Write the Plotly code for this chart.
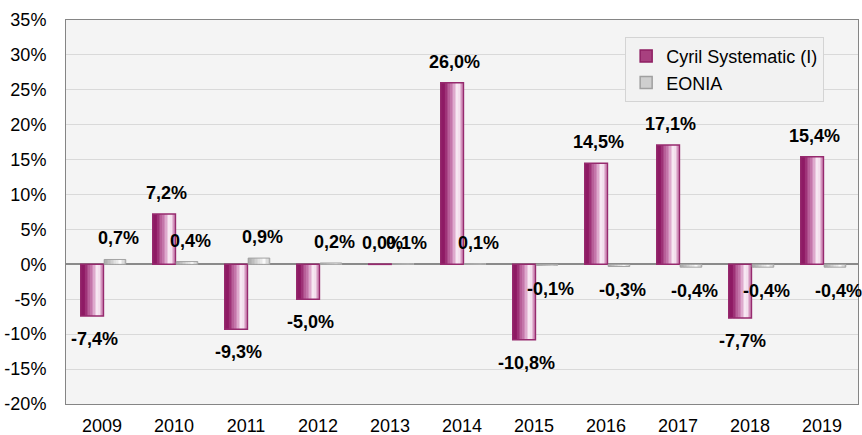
import plotly.graph_objects as go

years = ['2009', '2010', '2011', '2012', '2013', '2014', '2015', '2016', '2017', '2018', '2019']
cyril = [-7.4, 7.2, -9.3, -5.0, 0.04, 26.0, -10.8, 14.5, 17.1, -7.7, 15.4]
eonia = [0.7, 0.4, 0.9, 0.2, 0.1, 0.1, -0.1, -0.3, -0.4, -0.4, -0.4]
series_names = ['Cyril Systematic (I)', 'EONIA']
ytick_vals = [-20, -15, -10, -5, 0, 5, 10, 15, 20, 25, 30, 35]
ytick_text = ['-20%', '-15%', '-10%', '-5%', '0%', '5%', '10%', '15%', '20%', '25%', '30%', '35%']

FONT = 'Liberation Sans, Arial, sans-serif'


def fmt(v):
    return f"{v:.1f}".replace('.', ',') + '%'


def lerp_stops(stops, t):
    for (t0, c0), (t1, c1) in zip(stops[:-1], stops[1:]):
        if t0 <= t <= t1:
            f = (t - t0) / (t1 - t0) if t1 > t0 else 0
            return 'rgb(%d,%d,%d)' % tuple(round(a + (b - a) * f) for a, b in zip(c0, c1))
    return 'rgb(%d,%d,%d)' % stops[-1][1]


cyril_stops = [(0, (138, 22, 96)), (0.18, (145, 28, 102)), (0.55, (212, 145, 190)),
               (0.78, (252, 244, 250)), (1.0, (205, 130, 180))]
eonia_stops = [(0, (165, 165, 165)), (0.2, (185, 185, 185)), (0.75, (250, 250, 250)),
               (1.0, (200, 200, 200))]

specs = [
    (cyril, -0.295, 0.315, cyril_stops, '#962A6E', 1.5),
    (eonia, 0.03, 0.30, eonia_stops, '#A3A3A3', 1.0),
]

fig = go.Figure()
N = 14
for vals, off, wid, stops, edge, lw in specs:
    sw = wid / N
    for i in range(N):
        t = (i + 0.5) / N
        fig.add_trace(go.Bar(
            x=years, y=vals, offset=off + i * sw, width=sw * 1.08,
            marker=dict(color=lerp_stops(stops, t), line=dict(width=0)),
            showlegend=False, hoverinfo='skip'))
    fig.add_trace(go.Bar(
        x=years, y=vals, offset=off, width=wid,
        marker=dict(color='rgba(0,0,0,0)', line=dict(color=edge, width=lw)),
        showlegend=False, hoverinfo='skip'))

# legend entries
legend_cols = [('#A8407F', '#8E1F63'), ('#CFCFCF', '#A0A0A0')]
for i, (name, (fc, lc)) in enumerate(zip(series_names, legend_cols)):
    fig.add_trace(go.Bar(
        x=years, y=[None] * len(years), name=name, legendgroup=f'g{i}',
        marker=dict(color=fc, line=dict(color=lc, width=1.5)), showlegend=True))

annotations = []
for idx, v in enumerate(cyril):
    annotations.append(dict(
        x=idx, y=v, xref='x', yref='y', text=fmt(v), showarrow=False,
        xshift=-8, yshift=21 if v >= 0 else -23, yanchor='middle',
        font=dict(family=FONT, size=18, color='#000000', weight=700)))
for idx, v in enumerate(eonia):
    annotations.append(dict(
        x=idx, y=v, xref='x', yref='y', text=fmt(v), showarrow=False,
        xshift=16, yshift=21 if v >= 0 else -24, yanchor='middle',
        font=dict(family=FONT, size=18, color='#000000', weight=700)))

fig.update_layout(
    width=862, height=435,
    margin=dict(l=66, r=4, t=20, b=31, autoexpand=False),
    barmode='overlay',
    paper_bgcolor='#FFFFFF',
    plot_bgcolor='#F4F4F4',
    font=dict(family=FONT, size=18, color='#000000'),
    annotations=annotations,
    legend=dict(
        x=0.706, y=0.956, xanchor='left', yanchor='top',
        bgcolor='#F2F2F2', bordercolor='#D4D4D4', borderwidth=1,
        font=dict(family=FONT, size=18, color='#000000'),
        tracegroupgap=7, traceorder='normal'),
    showlegend=True,
)
fig.update_xaxes(
    type='category', categoryorder='array', categoryarray=years,
    range=[-0.5, len(years) - 0.5], autorange=False, automargin=False,
    showgrid=False, showline=True, mirror=True,
    linecolor='#858585', linewidth=1, ticks='', ticklabelstandoff=5,
    tickfont=dict(family=FONT, size=18, color='#000000'))
fig.update_yaxes(
    range=[-20, 35], autorange=False, automargin=False,
    tickvals=ytick_vals, ticktext=ytick_text,
    showgrid=True, gridcolor='#D9D9D9', gridwidth=1,
    zeroline=True, zerolinecolor='#8A8A8A', zerolinewidth=1.5,
    showline=True, mirror=True, linecolor='#858585', linewidth=1,
    ticks='', ticklabelstandoff=15,
    tickfont=dict(family=FONT, size=18, color='#000000'))

fig.write_html('out.html', config={'displayModeBar': False},
               post_script="document.body.style.margin='0';")
